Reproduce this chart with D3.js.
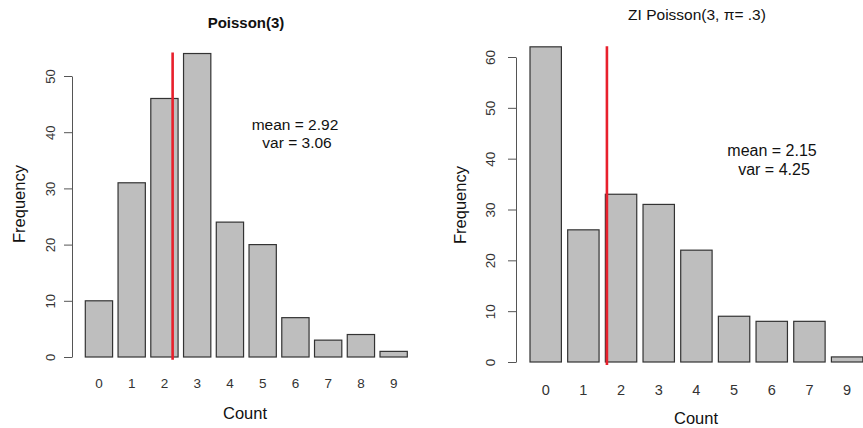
<!DOCTYPE html>
<html>
<head>
<meta charset="utf-8">
<script src="https://cdn.jsdelivr.net/npm/d3@7"></script>
<style>
  html, body { margin: 0; padding: 0; background: #fff; }
  svg { display: block; font-family: "Liberation Sans", Arial, sans-serif; }
</style>
</head>
<body>
<svg id="chart" width="863" height="428"></svg>
<script>
// ---- data ----
const leftCategories = ["0","1","2","3","4","5","6","7","8","9"];
const leftValues = [10, 31, 46, 54, 24, 20, 7, 3, 4, 1];
const leftTicks = [0, 10, 20, 30, 40, 50];
const leftTitle = "Poisson(3)";
const leftStats = ["mean = 2.92", "var = 3.06"];
const leftMarkerAt = 3.40;          // red line position, in barplot user units
const leftMarkerSpan = [-0.5, 54.2];

const rightCategories = ["0","1","2","3","4","5","6","7","9"];
const rightValues = [62, 26, 33, 31, 22, 9, 8, 8, 1];
const rightTicks = [0, 10, 20, 30, 40, 50, 60];
const rightTitle = "ZI Poisson(3, \u03c0= .3)";
const rightStats = ["mean = 2.15", "var = 4.25"];
const rightMarkerAt = 2.65;
const rightMarkerSpan = [-0.6, 62.1];

const xLabel = "Count";
const yLabel = "Frequency";

const svg = d3.select("#chart");

function panel(cfg) {
  const n = cfg.categories.length;
  // R barplot layout: width 1, space 0.2 -> left edge of bar i at 0.2 + 1.2 i
  const x = d3.scaleLinear().domain([0.2, 0.2 + 1.2 * (n - 1) + 1]).range(cfg.xRange);
  const y = d3.scaleLinear().domain([0, d3.max(cfg.ticks)]).range(cfg.yRange);
  const g = svg.append("g");

  // bars
  g.selectAll("rect.bar").data(cfg.values).join("rect")
    .attr("class", "bar")
    .attr("x", (d, i) => x(0.2 + 1.2 * i))
    .attr("width", (d, i) => x(1.2 + 1.2 * i) - x(0.2 + 1.2 * i))
    .attr("y", d => y(d))
    .attr("height", d => y(0) - y(d))
    .attr("fill", "#bebebe")
    .attr("stroke", "#333")
    .attr("stroke-width", 1.2);

  // red marker line
  g.append("line")
    .attr("x1", x(cfg.markerAt)).attr("x2", x(cfg.markerAt))
    .attr("y1", y(cfg.markerSpan[0])).attr("y2", y(cfg.markerSpan[1]))
    .attr("stroke", "#e8202c").attr("stroke-width", 2.6);

  // y axis
  const ax = g.append("g")
    .attr("transform", `translate(${cfg.axisX},0)`)
    .call(d3.axisLeft(y).tickValues(cfg.ticks).tickSize(8).tickSizeOuter(0));
  ax.select(".domain").attr("stroke", "#555");
  ax.selectAll(".tick line").attr("stroke", "#555");
  ax.selectAll(".tick text")
    .attr("x", null).attr("dy", null)
    .attr("transform", `translate(${-cfg.labelOffset},0) rotate(-90)`)
    .attr("y", 0).attr("dy", "0.36em")
    .attr("text-anchor", "middle")
    .attr("fill", "#333")
    .attr("font-size", cfg.tickFont + "px")
    .attr("font-family", "Liberation Sans, Arial, sans-serif");

  // x category labels (no axis line, like R barplot names)
  g.selectAll("text.cat").data(cfg.categories).join("text")
    .attr("class", "cat")
    .attr("x", (d, i) => x(0.7 + 1.2 * i))
    .attr("y", cfg.catY)
    .attr("dy", "0.36em")
    .attr("text-anchor", "middle")
    .attr("font-size", cfg.catFont + "px")
    .attr("fill", "#333")
    .text(d => d);

  // title
  g.append("text")
    .attr("x", cfg.titlePos[0]).attr("y", cfg.titlePos[1])
    .attr("text-anchor", "middle")
    .attr("font-size", cfg.titleFont + "px")
    .attr("font-weight", cfg.titleBold ? "bold" : "normal")
    .attr("fill", "#111")
    .text(cfg.title);

  // stats
  cfg.stats.forEach((s, i) => {
    g.append("text")
      .attr("x", cfg.statsPos[0] + (i ? 2 : 0))
      .attr("y", cfg.statsPos[1] + i * cfg.statsGap)
      .attr("dy", "0.36em")
      .attr("text-anchor", "middle")
      .attr("font-size", cfg.statsFont + "px")
      .attr("fill", "#111")
      .text(s);
  });

  // axis titles
  g.append("text")
    .attr("x", cfg.xLabelPos[0]).attr("y", cfg.xLabelPos[1])
    .attr("dy", "0.36em").attr("text-anchor", "middle")
    .attr("font-size", cfg.labelFont + "px").attr("fill", "#111")
    .text(xLabel);
  g.append("text")
    .attr("transform", `translate(${cfg.yLabelPos[0]},${cfg.yLabelPos[1]}) rotate(-90)`)
    .attr("dy", "0.36em").attr("text-anchor", "middle")
    .attr("font-size", cfg.labelFont + "px").attr("fill", "#111")
    .text(yLabel);
}

panel({
  categories: leftCategories, values: leftValues, ticks: leftTicks,
  title: leftTitle, titleBold: true, titlePos: [246, 28], titleFont: 15,
  stats: leftStats, statsPos: [295, 124], statsGap: 18.7, statsFont: 15.5,
  markerAt: leftMarkerAt, markerSpan: leftMarkerSpan,
  xRange: [85.3, 407.3], yRange: [357, 76], axisX: 72, labelOffset: 22,
  tickFont: 13, catFont: 13.5, catY: 383,
  xLabelPos: [245, 413], yLabelPos: [19, 204], labelFont: 16.5
});

panel({
  categories: rightCategories, values: rightValues, ticks: rightTicks,
  title: rightTitle, titleBold: false, titlePos: [697, 19.5], titleFont: 15.5,
  stats: rightStats, statsPos: [772, 150], statsGap: 19.3, statsFont: 16,
  markerAt: rightMarkerAt, markerSpan: rightMarkerSpan,
  xRange: [530, 862.8], yRange: [362, 57], axisX: 516, labelOffset: 26,
  tickFont: 13.5, catFont: 14.5, catY: 390,
  xLabelPos: [696, 418], yLabelPos: [460, 205], labelFont: 16.5
});
</script>
</body>
</html>
